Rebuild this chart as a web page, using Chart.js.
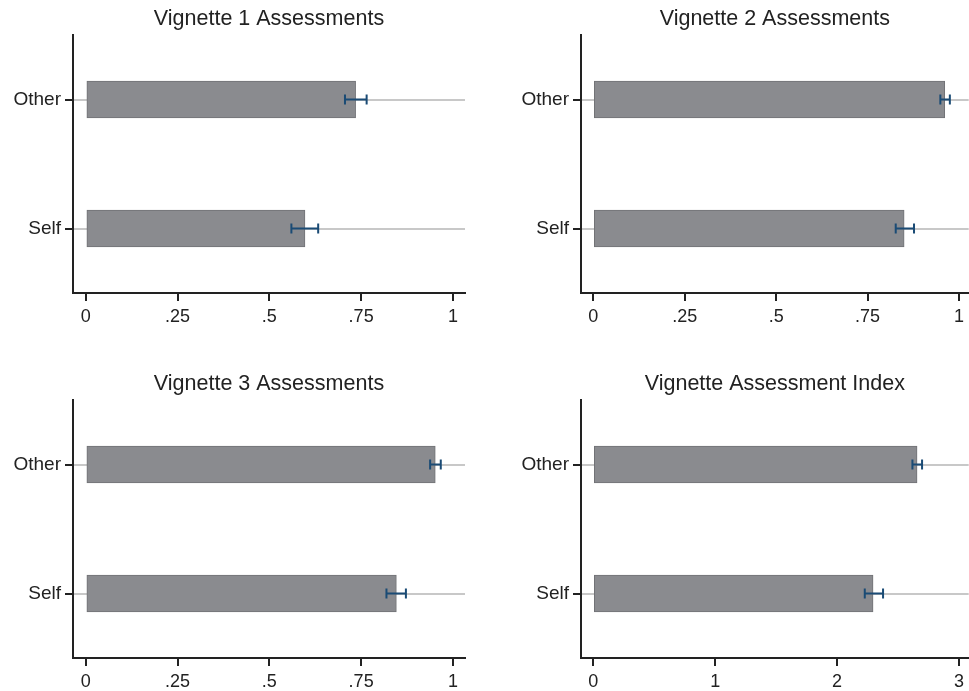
<!DOCTYPE html>
<html>
<head>
<meta charset="utf-8">
<script src="https://cdn.jsdelivr.net/npm/chart.js@4/dist/chart.umd.min.js"></script>
<style>
  body { margin: 0; background: #fff; }
  #wrap { position: relative; width: 969px; height: 691px; overflow: hidden; }
  canvas { position: absolute; }
</style>
</head>
<body>
<div id="wrap">
  <canvas id="c1" width="484" height="345" style="left:0;top:0"></canvas>
  <canvas id="c2" width="479" height="345" style="left:490px;top:0"></canvas>
  <canvas id="c3" width="484" height="326" style="left:0;top:365px"></canvas>
  <canvas id="c4" width="479" height="326" style="left:490px;top:365px"></canvas>
</div>
<script>
// categories and values (mean with 95% CI)
var categories = ['Other', 'Self'];

var v1Means = [0.735, 0.597];
var v1Low   = [0.706, 0.560];
var v1High  = [0.765, 0.633];

var v2Means = [0.961, 0.850];
var v2Low   = [0.949, 0.827];
var v2High  = [0.975, 0.877];

var v3Means = [0.952, 0.846];
var v3Low   = [0.938, 0.819];
var v3High  = [0.967, 0.872];

var idxMeans = [2.656, 2.295];
var idxLow   = [2.618, 2.227];
var idxHigh  = [2.697, 2.377];

var shareTicks = [0, 0.25, 0.5, 0.75, 1];
var shareTickLabels = ['0', '.25', '.5', '.75', '1'];
var indexTicks = [0, 1, 2, 3];
var indexTickLabels = ['0', '1', '2', '3'];

var ink = '#222222';
var fontFamily = '"Liberation Sans", Arial, Helvetica, sans-serif';

// draws the confidence interval whiskers using the chart's own scales
function errorBars(low, high) {
    return {
        id: 'errorBars',
        afterDatasetsDraw: function(chart) {
            var ctx = chart.ctx;
            var xs = chart.scales.x, ys = chart.scales.y;
            ctx.save();
            ctx.strokeStyle = '#1a4b75';
            ctx.lineWidth = 2;
            for (var i = 0; i < low.length; i++) {
                var y = ys.getPixelForValue(i);
                var x1 = xs.getPixelForValue(low[i]);
                var x2 = xs.getPixelForValue(high[i]);
                ctx.beginPath();
                ctx.moveTo(x1, y); ctx.lineTo(x2, y);
                ctx.moveTo(x1, y - 5); ctx.lineTo(x1, y + 5);
                ctx.moveTo(x2, y - 5); ctx.lineTo(x2, y + 5);
                ctx.stroke();
            }
            ctx.restore();
        }
    };
}

// title centred over the plot region, like the stata graph
function plotTitle(text) {
    return {
        id: 'plotTitle',
        afterDraw: function(chart) {
            var ctx = chart.ctx, area = chart.chartArea;
            ctx.save();
            ctx.fillStyle = ink;
            ctx.font = '21.5px ' + fontFamily;
            ctx.textAlign = 'center';
            ctx.textBaseline = 'middle';
            ctx.fillText(text, (area.left + area.right) / 2, 19);
            ctx.restore();
        }
    };
}

function makeChart(id, title, means, low, high, xmin, xmax, ticks, tickLabels, leftW, rightPad, bottomH) {
    var ctx = document.getElementById(id).getContext('2d');
    return new Chart(ctx, {
        type: 'bar',
        data: {
            labels: categories,
            datasets: [{
                data: means,
                backgroundColor: '#8a8b8f',
                borderColor: '#717276',
                borderWidth: 1,
                borderSkipped: false,
                barThickness: 37
            }]
        },
        options: {
            indexAxis: 'y',
            responsive: false,
            animation: false,
            devicePixelRatio: 1,
            layout: { padding: { left: 0, right: rightPad, top: 35, bottom: 0 } },
            plugins: {
                legend: { display: false },
                tooltip: { enabled: false },
                title: { display: false }
            },
            scales: {
                x: {
                    type: 'linear',
                    min: xmin,
                    max: xmax,
                    afterBuildTicks: function(axis) {
                        axis.ticks = ticks.map(function(v) { return { value: v }; });
                    },
                    afterFit: function(scale) { scale.height = bottomH; },
                    grid: { drawOnChartArea: false, tickLength: 8, tickColor: ink, lineWidth: 2 },
                    border: { color: ink, width: 2 },
                    ticks: {
                        color: ink,
                        padding: 5,
                        maxRotation: 0,
                        autoSkip: false,
                        font: { family: fontFamily, size: 18 },
                        callback: function(value, index) { return tickLabels[index]; }
                    }
                },
                y: {
                    type: 'category',
                    offset: true,
                    afterFit: function(scale) { scale.width = leftW; },
                    grid: { offset: false, color: '#c8c8c8', lineWidth: 2, tickLength: 8, tickColor: ink },
                    border: { color: ink, width: 2 },
                    ticks: {
                        color: ink,
                        padding: 4,
                        font: { family: fontFamily, size: 19 }
                    }
                }
            }
        },
        plugins: [errorBars(low, high), plotTitle(title)]
    });
}

document.addEventListener("DOMContentLoaded", function() {
    makeChart('c1', 'Vignette 1 Assessments', v1Means, v1Low, v1High, -0.035, 1.033, shareTicks, shareTickLabels, 73, 19, 52);
    makeChart('c2', 'Vignette 2 Assessments', v2Means, v2Low, v2High, -0.0336, 1.0265, shareTicks, shareTickLabels, 91, 0, 52);
    makeChart('c3', 'Vignette 3 Assessments', v3Means, v3Low, v3High, -0.035, 1.033, shareTicks, shareTickLabels, 73, 19, 33);
    makeChart('c4', 'Vignette Assessment Index', idxMeans, idxLow, idxHigh, -0.101, 3.0795, indexTicks, indexTickLabels, 91, 0, 33);
});
</script>
</body>
</html>
